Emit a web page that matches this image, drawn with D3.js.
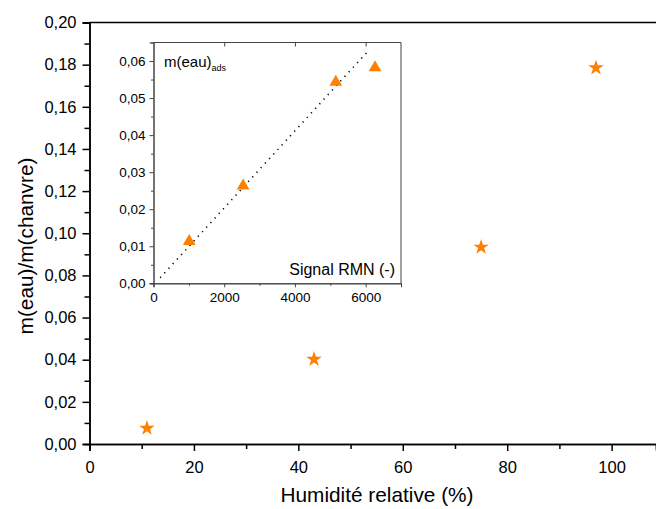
<!DOCTYPE html>
<html><head><meta charset="utf-8">
<script src="https://cdn.jsdelivr.net/npm/d3@7"></script>
<style>body{margin:0;background:#fff}svg{display:block}text{font-family:"Liberation Sans",Arial,sans-serif;fill:#000}</style>
</head><body><svg id="c" width="656" height="509"></svg>
<script>
// Main chart data
const humidity = [11, 43, 75, 97];
const massRatio = [0.0075, 0.0402, 0.0934, 0.1785];
const mainXTicks = [0, 20, 40, 60, 80, 100];
const mainYTicks = [0, 0.02, 0.04, 0.06, 0.08, 0.10, 0.12, 0.14, 0.16, 0.18, 0.20];
// Inset data
const signalRMN = [1010, 2535, 5155, 6265];
const mAds = [0.0113, 0.0263, 0.0543, 0.0582];
const fitX = [189, 6070];
const fitY = [0.0015, 0.0627];
const insetXTicks = [0, 2000, 4000, 6000];
const insetYTicks = [0, 0.01, 0.02, 0.03, 0.04, 0.05, 0.06];

const orange = "#FF7F00";
const fmt = d3.format(".2f");
const comma = v => fmt(v).replace(".", ",");
const svg = d3.select("#c");

// ---- main
const x = d3.scaleLinear().domain([0, 108.5]).range([89.5, 656]);
const y = d3.scaleLinear().domain([0, 0.2]).range([444, 22.5]);

svg.append("line").attr("x1", x(0)).attr("x2", 656).attr("y1", y(0.2)).attr("y2", y(0.2))
  .attr("stroke", "#000").attr("stroke-width", 1.5);

const xMinor = d3.range(10, 110, 20);
const gx = svg.append("g").attr("transform", `translate(0,${y(0)})`);
gx.call(d3.axisBottom(x).tickValues(xMinor).tickSize(5).tickFormat(""));
gx.call(g => g.append("g").call(d3.axisBottom(x).tickValues(mainXTicks).tickSize(7).tickPadding(10).tickFormat(d3.format("d"))));
gx.selectAll("text").attr("font-size", 16.5);
gx.selectAll("path.domain").attr("stroke-width", 1.5);
gx.selectAll("line").attr("stroke-width", 1.5);

const yMinor = d3.range(0.01, 0.2, 0.02);
const gy = svg.append("g").attr("transform", `translate(${x(0)},0)`);
gy.call(d3.axisLeft(y).tickValues(yMinor).tickSize(5).tickFormat(""));
gy.call(g => g.append("g").call(d3.axisLeft(y).tickValues(mainYTicks).tickSize(7).tickPadding(6).tickFormat(comma)));
gy.selectAll("text").attr("font-size", 16.5);
gy.selectAll("path.domain").attr("stroke-width", 1.5);
gy.selectAll("line").attr("stroke-width", 1.5);

const star = d3.symbol().type(d3.symbolStar).size(75);
svg.append("g").selectAll("path").data(humidity).join("path")
  .attr("d", star)
  .attr("transform", (d, i) => `translate(${x(d)},${y(massRatio[i])})`)
  .attr("fill", orange);

svg.append("text").attr("x", 377).attr("y", 502).attr("text-anchor", "middle")
  .attr("font-size", 20.8).text("Humidité relative (%)");
svg.append("text").attr("transform", "translate(33,246) rotate(-90)").attr("text-anchor", "middle")
  .attr("font-size", 20.8).text("m(eau)/m(chanvre)");

// ---- inset
const ix = d3.scaleLinear().domain([0, 7000]).range([153.5, 401]);
const iy = d3.scaleLinear().domain([0, 0.065]).range([283.3, 42.5]);
const inset = svg.append("g");
const axCol = "#444";

inset.append("line").attr("x1", ix(0)).attr("x2", ix(7000)).attr("y1", iy(0.065)).attr("y2", iy(0.065)).attr("stroke", axCol);
inset.append("line").attr("x1", ix(7000)).attr("x2", ix(7000)).attr("y1", iy(0.065)).attr("y2", iy(0)).attr("stroke", axCol);
inset.append("g").attr("transform", `translate(0,${iy(0.065)})`)
  .call(d3.axisBottom(ix).tickValues([2000, 4000, 6000]).tickSize(4).tickFormat(""))
  .call(g => g.select(".domain").remove());

const igx = inset.append("g").attr("transform", `translate(0,${iy(0)})`);
igx.call(d3.axisBottom(ix).tickValues([1000, 3000, 5000, 7000]).tickSize(2.5).tickFormat(""));
igx.call(g => g.append("g").call(d3.axisBottom(ix).tickValues(insetXTicks).tickSize(4).tickPadding(5).tickFormat(d3.format("d"))));
igx.selectAll("text").attr("font-size", 13.5);

const igy = inset.append("g").attr("transform", `translate(${ix(0)},0)`);
igy.call(d3.axisLeft(iy).tickValues(d3.range(0.005, 0.065, 0.01)).tickSize(2.5).tickFormat(""));
igy.call(g => g.append("g").call(d3.axisLeft(iy).tickValues(insetYTicks).tickSize(4).tickPadding(4).tickFormat(comma)));
igy.selectAll("text").attr("font-size", 13.5);
inset.selectAll("path.domain, line").attr("stroke", axCol);

inset.append("path")
  .attr("d", d3.line().x(d => ix(d)).y((d, i) => iy(fitY[i]))(fitX))
  .attr("stroke", "#000").attr("stroke-width", 1.6).attr("fill", "none")
  .attr("stroke-dasharray", "1.2,5").attr("stroke-linecap", "butt");

const tri = d3.symbol().type(d3.symbolTriangle).size(70);
inset.append("g").selectAll("path").data(signalRMN).join("path")
  .attr("d", tri)
  .attr("transform", (d, i) => `translate(${ix(d)},${iy(mAds[i])})`)
  .attr("fill", orange);

const lab = inset.append("text").attr("x", 164).attr("y", 67).attr("font-size", 15);
lab.append("tspan").text("m(eau)");
lab.append("tspan").attr("font-size", 9).attr("dy", 4).text("ads");
inset.append("text").attr("x", 395).attr("y", 275).attr("text-anchor", "end").attr("font-size", 16).text("Signal RMN (-)");
</script></body></html>
